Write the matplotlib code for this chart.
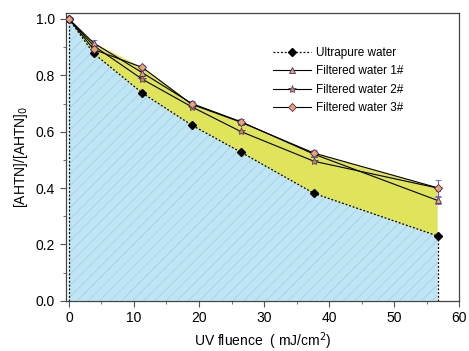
import numpy as np
import matplotlib
matplotlib.use("Agg")
import matplotlib.pyplot as plt
from matplotlib.ticker import MultipleLocator
from matplotlib.lines import Line2D

plt.rcParams['font.family'] = ['Liberation Sans', 'DejaVu Sans']
plt.rcParams['hatch.linewidth'] = 0.6

# UV fluence (mJ/cm2)
fluence = [0, 3.8, 11.3, 18.9, 26.4, 37.7, 56.7]
ultrapure = [1.0, 0.878, 0.737, 0.623, 0.528, 0.381, 0.23]
filtered1 = [1.0, 0.915, 0.809, 0.70, 0.636, 0.52, 0.356]
filtered2 = [1.0, 0.905, 0.786, 0.688, 0.601, 0.495, 0.40]
filtered3 = [1.0, 0.892, 0.828, 0.697, 0.634, 0.524, 0.401]
err3 = [0.008, 0.01, 0.01, 0.01, 0.01, 0.012, 0.028]
err1 = [0.008, 0.01, 0.01, 0.01, 0.01, 0.01, 0.012]
labels = ['Ultrapure water', 'Filtered water 1#', 'Filtered water 2#', 'Filtered water 3#']

x = np.array(fluence)
up = np.array(ultrapure)
top = np.max(np.vstack([filtered1, filtered2, filtered3]), axis=0)

fig = plt.figure(figsize=(4.69, 3.51), dpi=100)
ax = fig.add_axes([0.140, 0.143, 0.839, 0.819])

# shaded regions
ax.fill_between(x, 0, up, facecolor='#bfe4f3', edgecolor='#a6d3e8',
                hatch='///', linewidth=0, zorder=1)
ax.fill_between(x, up, top, facecolor='#e0e45a', linewidth=0, zorder=1)
ax.vlines([x[0], x[-1]], 0, [up[0], up[-1]], colors='black',
          linestyles=(0, (1.5, 1.5)), linewidth=0.9, zorder=2)

edge = '#3a2f7a'
sty_up = dict(color='black', lw=0.9, ls=(0, (1.5, 1.5)), marker='D', ms=4,
              mfc='black', mec='black')
sty1 = dict(color='black', lw=0.8, marker='^', ms=5, mfc='#f4a261', mec=edge, mew=0.6)
sty2 = dict(color='black', lw=0.8, marker='*', ms=6, mfc='#c8864a', mec=edge, mew=0.5)
sty3 = dict(color='black', lw=0.8, marker='D', ms=4.5, mfc='#f4a261', mec=edge, mew=0.6)

ax.errorbar(x, filtered1, yerr=err1, ecolor='#6a5acd', elinewidth=0.8,
            capsize=2, zorder=4, **sty1)
ax.plot(x, filtered2, zorder=4, **sty2)
ax.errorbar(x, filtered3, yerr=err3, ecolor='#6a5acd', elinewidth=0.8,
            capsize=2, zorder=5, **sty3)
ax.plot(x, up, zorder=5, **sty_up)

handles = [Line2D([], [], **s) for s in (sty_up, sty1, sty2, sty3)]
ax.legend(handles, labels, frameon=False,
          loc='upper left', bbox_to_anchor=(0.5, 0.92), fontsize=8.5,
          handlelength=3.2, labelspacing=0.55, handletextpad=0.4)

ax.set_xlim(-0.5, 60)
ax.set_ylim(0, 1.02)
ax.xaxis.set_major_locator(MultipleLocator(10))
ax.xaxis.set_minor_locator(MultipleLocator(5))
ax.yaxis.set_major_locator(MultipleLocator(0.2))
ax.yaxis.set_minor_locator(MultipleLocator(0.1))
ax.yaxis.set_major_formatter(matplotlib.ticker.FormatStrFormatter('%.1f'))
ax.tick_params(which='both', direction='out', top=False, right=False,
               labelsize=10, color='#555555')
ax.tick_params(which='major', length=4)
ax.tick_params(which='minor', length=2)
for s in ax.spines.values():
    s.set_color('#444444')
    s.set_linewidth(0.9)

ax.set_xlabel('UV fluence  ( mJ/cm$^2$)', fontsize=10)
ax.set_ylabel('[AHTN]/[AHTN]$_0$', fontsize=10)

fig.savefig('out.png', dpi=100)
